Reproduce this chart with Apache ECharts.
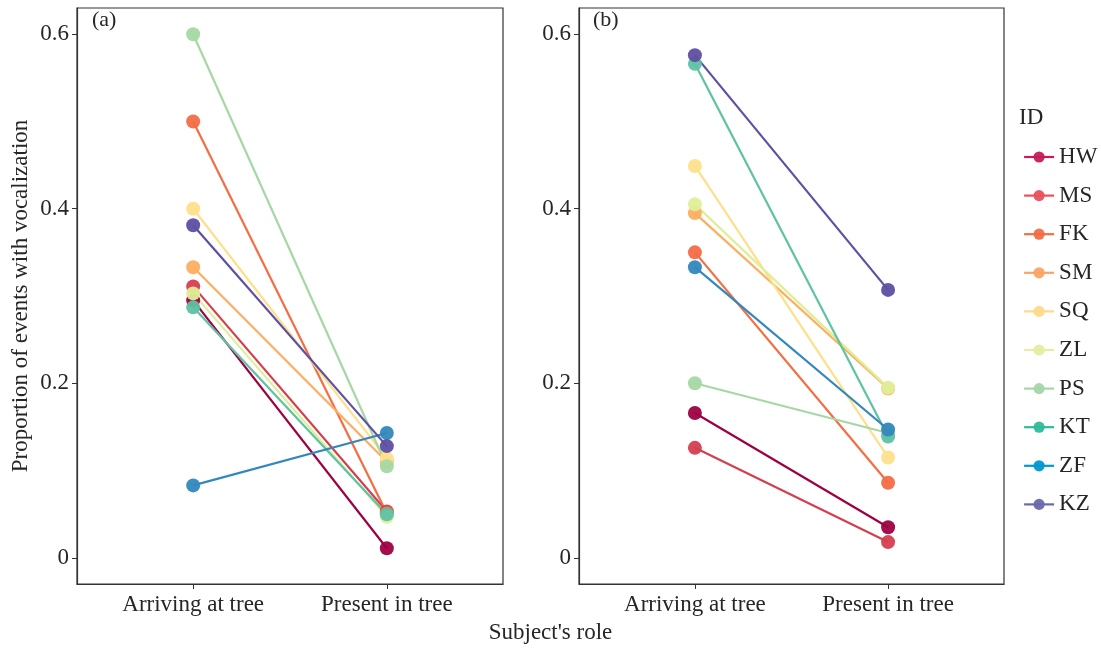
<!DOCTYPE html>
<html>
<head>
<meta charset="utf-8">
<script src="https://cdn.jsdelivr.net/npm/echarts@6/dist/echarts.min.js"></script>
<style>
html,body{margin:0;padding:0;background:#fff;}
#chart{width:1101px;height:648px;}
</style>
</head>
<body>
<div id="chart"></div>
<script>
const categories = ['Arriving at tree', 'Present in tree'];
const ids = ['HW','MS','FK','SM','SQ','ZL','PS','KT','ZF','KZ'];
const yTicks = [0, 0.2, 0.4, 0.6];
// Panel (a)
const panelA_arriving = [0.295, 0.311, 0.500, 0.333, 0.400, 0.303, 0.600, 0.287, 0.083, 0.381];
const panelA_present  = [0.011, 0.053, 0.051, 0.110, 0.114, 0.047, 0.105, 0.050, 0.143, 0.128];
// Panel (b)
const panelB_arriving = [0.166, 0.126, 0.350, 0.395, 0.449, 0.405, 0.200, 0.566, 0.333, 0.576];
const panelB_present  = [0.035, 0.018, 0.086, 0.194, 0.115, 0.195, 0.143, 0.139, 0.147, 0.307];

const lineColors = ['#9E0142','#D53E4F','#F46D43','#FDAE61','#FEE08B','#E0EE98','#A6D8A4','#5EC2A3','#3288BD','#5E4FA2'];
const legendColors = ['#C51B5A','#E8505B','#F06E44','#F9A464','#FDD98A','#E5EDA0','#A5D6A8','#2DBB9B','#0099CC','#6A67AC'];

const FONT = '"Liberation Serif", "DejaVu Serif", serif';
const TXT = '#262626';

const chart = echarts.init(document.getElementById('chart'), null, {renderer: 'canvas'});

function xAxisDef(gridIndex) {
  return {
    type: 'value', gridIndex: gridIndex, min: 0.4, max: 2.6, position: 'bottom',
    axisLine: {show: true, onZero: false, lineStyle: {color: '#333', width: 1.2}},
    splitLine: {show: false},
    axisTick: {show: true, length: 5, customValues: [1, 2], lineStyle: {color: '#333', width: 1}},
    axisLabel: {customValues: [1, 2], margin: 9, color: TXT, fontFamily: FONT, fontSize: 23,
      formatter: function (v) { return categories[Math.round(v) - 1]; }}
  };
}
function yAxisDef(gridIndex, withName) {
  const ax = {
    type: 'value', gridIndex: gridIndex, min: -0.03, max: 0.63, position: 'left',
    axisLine: {show: true, onZero: false, lineStyle: {color: '#333', width: 1.2}},
    splitLine: {show: false},
    axisTick: {show: true, length: 5, customValues: yTicks, lineStyle: {color: '#333', width: 1}},
    axisLabel: {customValues: yTicks, margin: 8, color: TXT, fontFamily: FONT, fontSize: 23,
      formatter: function (v) { return v === 0 ? '0' : String(v); }}
  };
  if (withName) {
    ax.name = 'Proportion of events with vocalization';
    ax.nameLocation = 'middle';
    ax.nameGap = 45;
    ax.nameRotate = 90;
    ax.nameTextStyle = {color: TXT, fontFamily: FONT, fontSize: 23};
  }
  return ax;
}

const series = [];
function addPanel(arr1, arr2, idx) {
  ids.forEach(function (id, i) {
    series.push({
      name: id, type: 'line', xAxisIndex: idx, yAxisIndex: idx,
      data: [[1, arr1[i]], [2, arr2[i]]],
      symbol: 'circle', symbolSize: 14, showSymbol: true,
      lineStyle: {color: lineColors[i], width: 2.2},
      itemStyle: {color: lineColors[i], opacity: 0.95},
      emphasis: {disabled: true},
      animation: false
    });
  });
}
addPanel(panelA_arriving, panelA_present, 0);
addPanel(panelB_arriving, panelB_present, 1);

const option = {
  backgroundColor: '#ffffff',
  animation: false,
  grid: [
    {left: 77, top: 8, width: 426, height: 576, show: true, borderColor: '#333', borderWidth: 1.2, backgroundColor: 'transparent'},
    {left: 579, top: 8, width: 425, height: 576, show: true, borderColor: '#333', borderWidth: 1.2, backgroundColor: 'transparent'}
  ],
  xAxis: [xAxisDef(0), xAxisDef(1)],
  yAxis: [yAxisDef(0, true), yAxisDef(1, false)],
  legend: {
    orient: 'vertical', left: 1018, top: 140,
    itemWidth: 30, itemHeight: 14, itemGap: 14.6,
    textStyle: {color: TXT, fontFamily: FONT, fontSize: 23, lineHeight: 24},
    selectedMode: false,
    data: ids.map(function (id, i) {
      return {name: id, itemStyle: {color: legendColors[i]}, lineStyle: {color: legendColors[i], width: 2.2}};
    })
  },
  graphic: [
    {type: 'text', left: 92, top: 9, style: {text: '(a)', fill: TXT, font: '22px ' + FONT}},
    {type: 'text', left: 593, top: 9, style: {text: '(b)', fill: TXT, font: '22px ' + FONT}},
    {type: 'text', left: 1019, top: 106, style: {text: 'ID', fill: TXT, font: '23px ' + FONT}},
    {type: 'text', left: 'center', top: 621, style: {text: "Subject's role", fill: TXT, font: '23px ' + FONT}}
  ],
  series: series
};
chart.setOption(option);
</script>
</body>
</html>
